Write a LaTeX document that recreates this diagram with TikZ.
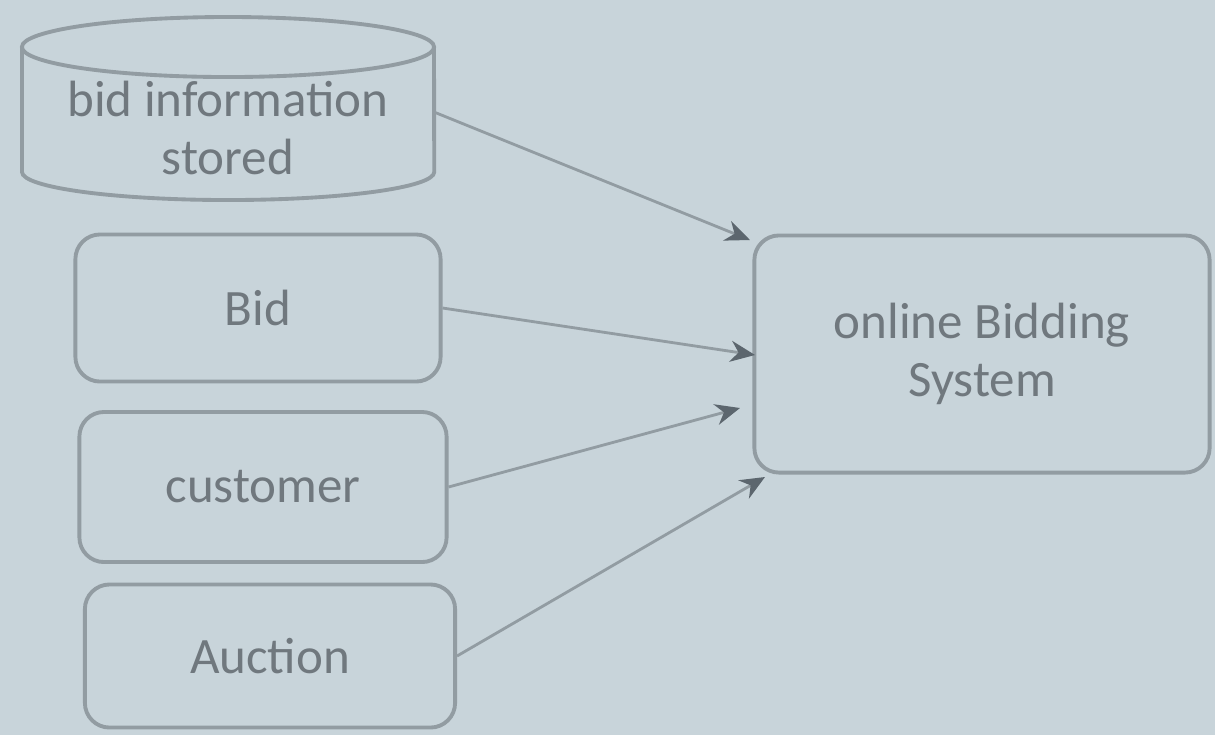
\documentclass[tikz,border=0pt]{standalone}
\usepackage{fontspec}
\setmainfont{Carlito}
\usetikzlibrary{arrows.meta, positioning}

\definecolor{paper}{RGB}{200,212,218}
\definecolor{edge}{RGB}{146,156,162}
\definecolor{ink}{RGB}{112,120,126}
\definecolor{tip}{RGB}{92,102,110}

\tikzset{
  box/.style={draw=edge, line width=1.1pt, rounded corners=7pt, fill=paper,
    text=ink, align=center, font=\fontsize{14.5}{16.5}\selectfont},
  storetext/.style={text=ink, align=center, font=\fontsize{14.5}{16.5}\selectfont},
  cyl/.style={draw=edge, line width=1.1pt},
  flow/.style={-{Stealth[length=7pt, width=6pt, color=tip]}, draw=edge, line width=0.8pt}
}

\begin{document}
\begin{tikzpicture}[x=0.01cm, y=-0.01cm]

    % Background
    \fill[paper] (0,0) rectangle (1215,735);
    \useasboundingbox (0,0) rectangle (1215,735);

    % Data store (cylinder)
    \draw[cyl] (22,47) -- (22,172) arc[start angle=180, end angle=360, x radius=2.06cm, y radius=0.28cm] -- (434,47);
    \draw[cyl] (228,47) ellipse [x radius=2.06cm, y radius=0.30cm];
    \node[storetext] (info) at (228,128) {bid information\\stored};
    \coordinate (infoE) at (434,112);

    % Boxes
    \node[box, minimum width=3.65cm, minimum height=1.47cm] (bid) at (258,308) {Bid};
    \node[box, minimum width=3.67cm, minimum height=1.50cm] (customer) at (263,487) {customer};
    \node[box, minimum width=3.70cm, minimum height=1.43cm] (auction) at (270,656) {Auction};
    \node[box, minimum width=4.55cm, minimum height=2.37cm] (obs) at (982,354) {online Bidding\\System};

    % Connectors
    \coordinate (t1) at (750,240);
    \coordinate (t2) at (755,355);
    \coordinate (t3) at (740,408);
    \coordinate (t4) at (765,477);
    \draw[flow] (infoE) -- (t1);
    \draw[flow] (bid.east) -- (t2);
    \draw[flow] (customer.east) -- (t3);
    \draw[flow] (auction.east) -- (t4);

\end{tikzpicture}
\end{document}
